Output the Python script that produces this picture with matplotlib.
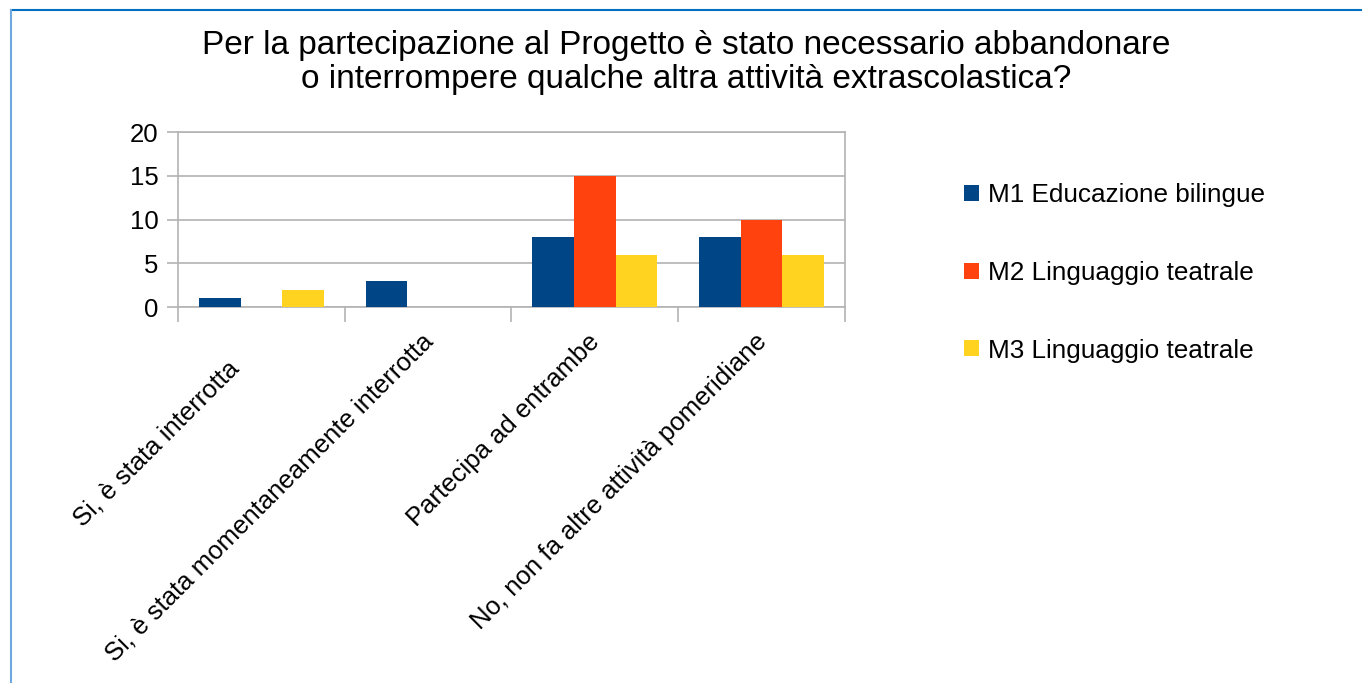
import numpy as np
import matplotlib.pyplot as plt
from matplotlib.patches import Patch
from matplotlib.lines import Line2D
from matplotlib.transforms import ScaledTranslation

plt.rcParams['font.family'] = ['Liberation Sans', 'DejaVu Sans']

categorie = ['Si, è stata interrotta',
             'Si, è stata momentaneamente interrotta',
             'Partecipa ad entrambe',
             'No, non fa altre attività pomeridiane']
serie = ['M1 Educazione bilingue', 'M2 Linguaggio teatrale', 'M3 Linguaggio teatrale']
m1 = [1, 3, 8, 8]
m2 = [0, 0, 15, 10]
m3 = [2, 0, 6, 6]
colori = ['#004586', '#ff420e', '#ffd320']

fig = plt.figure(figsize=(13.62, 6.83), dpi=100)
ax = fig.add_axes([0.1307, 0.5505, 0.4897, 0.2562])

x = np.arange(len(categorie))
w = 0.25
for k, vals in enumerate([m1, m2, m3]):
    ax.bar(x + (k - 1) * w, vals, width=w, color=colori[k], zorder=3)

ax.set_xlim(-0.5, len(categorie) - 0.5)
ax.set_ylim(0, 20)
ax.set_yticks([0, 5, 10, 15, 20])
ax.yaxis.grid(True, color='#b3b3b3', linewidth=1.2, zorder=0)
for s in ax.spines.values():
    s.set_color('#b3b3b3')
    s.set_linewidth(1.2)

# tick ai bordi delle categorie
ax.set_xticks(np.arange(-0.5, len(categorie), 1.0))
ax.set_xticklabels([])
ax.tick_params(axis='x', length=11, color='#b3b3b3', width=1.2)
ax.tick_params(axis='y', length=8, color='#b3b3b3', width=1.2, labelsize=18.5, pad=6)

ax.set_xticks(x, minor=True)
ax.set_xticklabels(categorie, minor=True, rotation=45, ha='right',
                   rotation_mode='anchor', fontsize=18.5, va='top')
ax.tick_params(axis='x', which='minor', length=0, pad=16)
for i, lab in enumerate(ax.get_xticklabels(minor=True)):
    dx, dy = -0.07, 0.0
    if i == 0:
        dx, dy = dx - 0.28, dy - 0.27
    lab.set_transform(lab.get_transform() + ScaledTranslation(dx, dy, fig.dpi_scale_trans))

fig.text(0.504, 0.9085, 'Per la partecipazione al Progetto è stato necessario abbandonare\n'
         'o interrompere qualche altra attività extrascolastica?',
         ha='center', va='center', fontsize=24, linespacing=1.15)

handles = [Patch(facecolor=c, edgecolor='none') for c in colori]
fig.legend(handles, serie, loc='center left', bbox_to_anchor=(0.708, 0.6003),
           frameon=False, fontsize=18.8, handlelength=0.58, handleheight=0.58,
           handletextpad=0.33, labelspacing=2.05, borderpad=0, borderaxespad=0)

# bordo blu (solo alto e sinistra, come nell'immagine ritagliata)
fig.add_artist(Line2D([11 / 1362, 1], [1 - 10 / 683, 1 - 10 / 683],
                      transform=fig.transFigure, color='#0070c0', linewidth=1.5))
fig.add_artist(Line2D([11 / 1362, 11 / 1362], [0, 1 - 10 / 683],
                      transform=fig.transFigure, color='#6fa8dc', linewidth=1.5))

fig.savefig('out.png', dpi=100)
